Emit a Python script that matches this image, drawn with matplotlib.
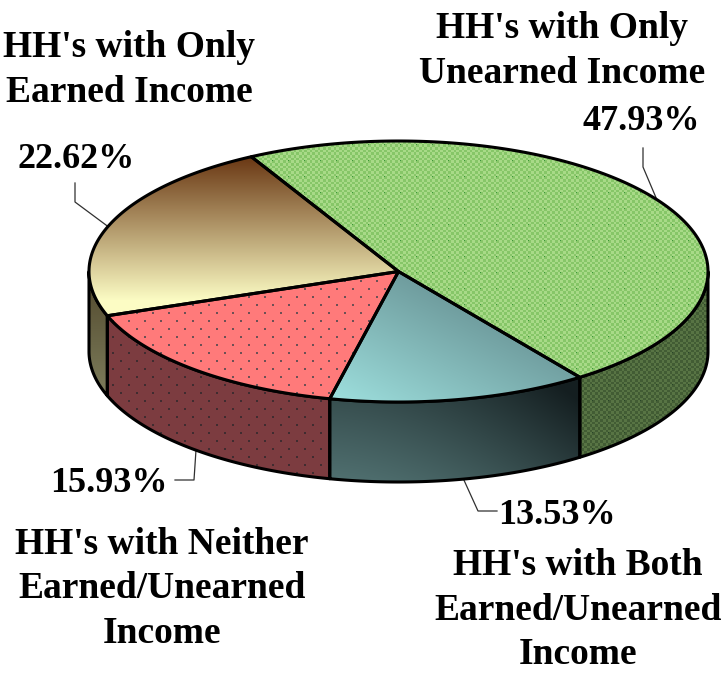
import numpy as np
import matplotlib
matplotlib.use("Agg")
import matplotlib.pyplot as plt
from matplotlib.path import Path
from matplotlib.patches import PathPatch

# ---- data ----
categories = ["HH's with Only\nUnearned Income",
              "HH's with Both\nEarned/Unearned\nIncome",
              "HH's with Neither\nEarned/Unearned\nIncome",
              "HH's with Only\nEarned Income"]
shares = [47.93, 13.53, 15.93, 22.62]
pct_labels = ["47.93%", "13.53%", "15.93%", "22.62%"]

# ---- layout (pixel space) ----
W, H = 724, 673
CX, CY, RX, RY = 398.5, 271.5, 309.5, 130.5
DEPTH = 80.0
START = 118.4
EDGE = 2.2
cat_pos = [(562, 51), (578, 610), (162, 589), (129, 70)]
pct_pos = [(641, 122), (557, 515), (109, 483), (76, 160)]
leaders = [[(643, 148), (643, 167), (657, 200)],
           [(497, 511), (478, 511), (463, 478)],
           [(175, 480), (194, 480), (196, 450)],
           [(75, 183), (75, 202), (110, 228)]]

yy, xx = np.mgrid[0:H, 0:W]


def grad(c0, c1, t):
    t = np.clip(t, 0, 1)[..., None]
    return (1 - t) * np.array(c0, float) + t * np.array(c1, float)


def checker(c0, c1, c_spark):
    m = (((xx * 3 // 8) + (yy * 3 // 8)) % 2 == 0)[..., None]
    out = np.where(m, np.array(c0, float), np.array(c1, float))
    spark = ((xx % 16 < 1) & (yy % 16 < 1))[..., None]
    return np.where(spark, np.array(c_spark, float), out)


def dots(base, dot):
    rows = yy // 8
    dx = (xx + 8 * (rows % 2)) % 16
    dy = yy % 8
    m = ((dx <= 1) & (dy <= 1))[..., None]
    return np.where(m, np.array(dot, float), np.array(base, float) * np.ones((H, W, 3)))


top_tex = [
    checker((134, 198, 104), (168, 218, 136), (60, 150, 60)),
    grad((158, 224, 222), (104, 146, 148), ((xx - 330) / 250 + (400 - yy) / 130) / 1.45),
    dots((255, 122, 122), (110, 80, 85)),
    grad((252, 252, 196), (106, 56, 20), (300 - yy) / 143.0),
]
side_tex = [
    checker((66, 92, 52), (88, 116, 68), (40, 70, 40)),
    grad((80, 112, 112), (20, 30, 32),
         np.clip((xx - 330) / 250, 0, 1) ** 1.6 * 0.6 + (480 - yy) / 80 * 0.4),
    dots((124, 60, 64), (64, 44, 48)),
    grad((126, 126, 92), (86, 78, 50), (397 - yy) / 110.0),
]


def arc(a0, a1, dy=0.0, n=240):
    a = np.radians(np.linspace(a0, a1, n))
    return np.column_stack([CX + RX * np.cos(a), CY + dy - RY * np.sin(a)])


fig = plt.figure(figsize=(W / 100, H / 100), dpi=100)
ax = fig.add_axes([0, 0, 1, 1])
ax.set_xlim(0, W)
ax.set_ylim(H, 0)
ax.axis("off")


def textured(poly, tex, z):
    im = ax.imshow(tex / 255.0, extent=(0, W, H, 0), interpolation="nearest",
                   zorder=z, aspect="auto")
    codes = [Path.MOVETO] + [Path.LINETO] * (len(poly) - 2) + [Path.CLOSEPOLY]
    patch = PathPatch(Path(poly, codes), fc="none", ec="black", lw=EDGE,
                      joinstyle="round", zorder=z + 0.5)
    ax.add_patch(patch)
    im.set_clip_path(patch)


angle = START
bounds = []
for s in shares:
    sweep = s / sum(shares) * 360.0
    bounds.append((angle, angle - sweep))
    angle -= sweep

# rim: only the part of each slice facing the viewer
for (a0, a1), tex in zip(bounds, side_tex):
    lo, hi = max(a1, -180), min(a0, 0)
    if hi > lo:
        upper = arc(hi, lo)
        lower = arc(lo, hi, DEPTH)
        poly = np.vstack([upper, lower, upper[:1]])
        textured(poly, tex, 2)

# top face
for (a0, a1), tex in zip(bounds, top_tex):
    rim = arc(a0, a1)
    poly = np.vstack([[(CX, CY)], rim, [(CX, CY)]])
    textured(poly, tex, 4)

# leader lines (ends tucked under the pie)
for pts in leaders:
    p = np.array(pts)
    ax.plot(p[:, 0], p[:, 1], color="#303030", lw=0.9, zorder=1)

font = dict(family="Liberation Serif", fontweight="bold", color="black",
            ha="center", va="center", zorder=7)
for label, (x, y) in zip(categories, cat_pos):
    ax.text(x, y, label, linespacing=1.36, fontsize=27, **font)
for label, (x, y) in zip(pct_labels, pct_pos):
    ax.text(x, y, label, fontsize=26, **font)

ax.set_xlim(0, W)
ax.set_ylim(H, 0)
fig.savefig("out.png", dpi=100, facecolor="white")
